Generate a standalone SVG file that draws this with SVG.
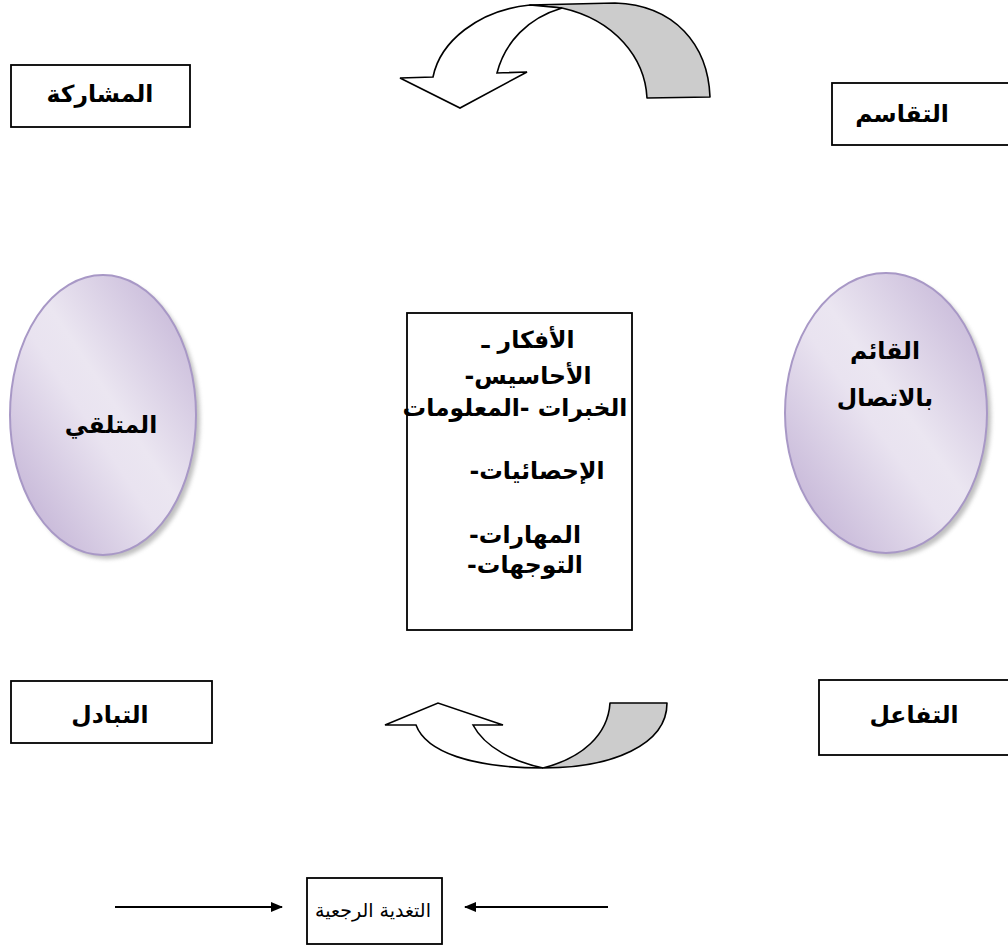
<svg xmlns="http://www.w3.org/2000/svg" width="1008" height="949" viewBox="0 0 1008 949">
<style>
.box{fill:#fff;stroke:#000;stroke-width:1.8}
.lbl{font-family:"DejaVu Sans","Noto Sans",sans-serif;font-weight:bold;font-size:23.5px;fill:#000;text-anchor:middle;direction:rtl}
.reg{font-family:"DejaVu Sans","Noto Sans",sans-serif;font-size:19px;fill:#000;text-anchor:middle;direction:rtl}
.ell{fill:url(#lav);stroke:#a898c6;stroke-width:2}
.shd{fill:#8a8a8a;opacity:0.55;filter:url(#blur)}
.back{fill:#cccccc;stroke:#000;stroke-width:1.6;stroke-linejoin:round}
.front{fill:#fff;stroke:#000;stroke-width:1.6;stroke-linejoin:miter}
.ln{stroke:#000;stroke-width:2;fill:none}
</style>
<defs>
<linearGradient id="lav" x1="1" y1="0" x2="0" y2="1">
<stop offset="0" stop-color="#bfaed3"/>
<stop offset="0.45" stop-color="#ebe6f1"/>
<stop offset="0.55" stop-color="#e9e3f0"/>
<stop offset="1" stop-color="#bba9d0"/>
</linearGradient>
<filter id="blur" x="-10%" y="-10%" width="120%" height="120%"><feGaussianBlur stdDeviation="2"/></filter>
<marker id="ah" markerWidth="12" markerHeight="10" refX="11" refY="5" orient="auto" markerUnits="userSpaceOnUse">
<path d="M0,0 L12,5 L0,10 Z" fill="#000"/>
</marker>
</defs>

<g id="connectors">
<g id="top-curved-arrow">
<path class="back" d="M562,8 C615,20 645,58 647,98 L710,97 C708,45 675,5 615,3 L530,5 Z"/>
<path class="front" d="M530,5 C478,10 440,42 433,77 L400,78 L460,108 L527,72 L497,73 C505,42 528,18 562,8 Z"/>
</g>
<g id="bottom-curved-arrow">
<path class="back" d="M543,768 C612,768 667,745 667,703 L610,703 C608,735 582,758 543,768 Z"/>
<path class="front" d="M543,768 C472,768 426,752 416,725 L385,725 L438,703 L503,725 L473,725 C485,748 515,762 543,768 Z"/>
</g>
<line class="ln" x1="115" y1="907" x2="282" y2="907" marker-end="url(#ah)"/>
<line class="ln" x1="608" y1="907" x2="465" y2="907" marker-end="url(#ah)"/>
</g>

<g id="node-musharaka">
<rect class="box" x="11" y="65" width="179" height="62"/>
<text class="lbl" x="100" y="102">المشاركة</text>
</g>

<g id="node-taqasum">
<rect class="box" x="832" y="83" width="190" height="62"/>
<text class="lbl" x="902" y="122">التقاسم</text>
</g>

<g id="node-mutalaqqi">
<ellipse class="shd" cx="107" cy="419" rx="93" ry="140"/>
<ellipse class="ell" cx="103" cy="415" rx="93" ry="140"/>
<text class="lbl" x="111" y="433">المتلقي</text>
</g>

<g id="node-qaim">
<ellipse class="shd" cx="890" cy="417" rx="101" ry="140"/>
<ellipse class="ell" cx="886" cy="413" rx="101" ry="140"/>
<text class="lbl" x="885" y="359">القائم</text>
<text class="lbl" x="885" y="406">بالاتصال</text>
</g>

<g id="node-content">
<rect class="box" x="407" y="313" width="225" height="317"/>
<text class="lbl" x="528" y="348">الأفكار ـ</text>
<text class="lbl" x="528" y="384">الأحاسيس-</text>
<text class="lbl" x="515" y="416">الخبرات -المعلومات</text>
<text class="lbl" x="537" y="479">الإحصائيات-</text>
<text class="lbl" x="525" y="543">المهارات-</text>
<text class="lbl" x="525" y="573">التوجهات-</text>
</g>

<g id="node-tabadul">
<rect class="box" x="11" y="681" width="201" height="62"/>
<text class="lbl" x="110" y="723">التبادل</text>
</g>

<g id="node-tafaul">
<rect class="box" x="819" y="680" width="200" height="75"/>
<text class="lbl" x="914" y="723">التفاعل</text>
</g>

<g id="node-feedback">
<rect class="box" x="307" y="878" width="135" height="66"/>
<text class="reg" x="373" y="917">التغدية الرجعية</text>
</g>
</svg>
